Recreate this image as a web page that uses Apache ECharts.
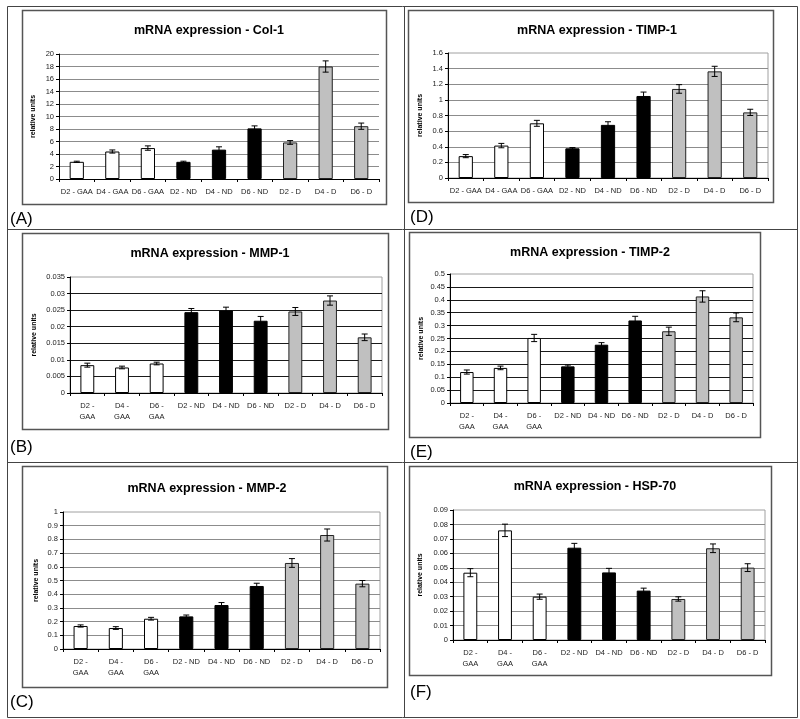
<!DOCTYPE html>
<html>
<head>
<meta charset="utf-8">
<script src="https://cdn.jsdelivr.net/npm/echarts@6/dist/echarts.min.js"></script>
<style>
  html, body { margin: 0; padding: 0; background: #fff; }
  #chart { width: 800px; height: 719px; }
</style>
</head>
<body>
<div id="chart"></div>
<script>
// categories shared by all six panels
var categories = ['D2 - GAA', 'D4 - GAA', 'D6 - GAA', 'D2 - ND', 'D4 - ND', 'D6 - ND', 'D2 - D', 'D4 - D', 'D6 - D'];

// values (mean, error)
var col1 = [2.75, 4.4, 4.95, 2.75, 4.7, 8.1, 5.85, 18.0, 8.45];
var col1Err = [0.1, 0.25, 0.35, 0.1, 0.45, 0.4, 0.3, 0.9, 0.5];

var timp1 = [0.28, 0.415, 0.70, 0.38, 0.68, 1.05, 1.14, 1.365, 0.84];
var timp1Err = [0.02, 0.028, 0.038, 0.01, 0.04, 0.05, 0.055, 0.065, 0.04];

var mmp1 = [0.0084, 0.0077, 0.0089, 0.0244, 0.0249, 0.0218, 0.0246, 0.0279, 0.0168];
var mmp1Err = [0.0006, 0.0004, 0.0004, 0.0011, 0.001, 0.0013, 0.0012, 0.0014, 0.001];

var timp2 = [0.12, 0.136, 0.252, 0.142, 0.226, 0.32, 0.278, 0.413, 0.332];
var timp2Err = [0.008, 0.007, 0.014, 0.005, 0.008, 0.016, 0.016, 0.022, 0.017];

var mmp2 = [0.168, 0.153, 0.221, 0.238, 0.321, 0.46, 0.628, 0.832, 0.477];
var mmp2Err = [0.008, 0.01, 0.01, 0.01, 0.018, 0.02, 0.032, 0.044, 0.023];

var hsp70 = [0.0466, 0.0759, 0.030, 0.0639, 0.0468, 0.0342, 0.0284, 0.0635, 0.0501];
var hsp70Err = [0.0028, 0.0043, 0.0018, 0.003, 0.0028, 0.0017, 0.0015, 0.003, 0.0027];

var FONT = '"Liberation Sans", Arial, sans-serif';

var panels = [
    { title: 'mRNA expression - Col-1', tag: '(A)', data: col1, err: col1Err, max: 20, step: 2, wrap: false,
      grid: [59, 54, 320, 125], box: [22, 10, 364, 194], titlePos: [204, 19], tagPos: [10, 211], nameGap: 22,
      splitColor: '#8c8c8c', border: false },
    { title: 'mRNA expression - TIMP-1', tag: '(D)', data: timp1, err: timp1Err, max: 1.6, step: 0.2, wrap: false,
      grid: [448, 53, 320, 125], box: [408, 10, 365, 192], titlePos: [592, 19], tagPos: [410, 209], nameGap: 24,
      splitColor: '#8c8c8c', border: true },
    { title: 'mRNA expression - MMP-1', tag: '(B)', data: mmp1, err: mmp1Err, max: 0.035, step: 0.005, wrap: true,
      grid: [70, 277, 312, 116], box: [22, 233, 366, 196], titlePos: [205, 242], tagPos: [10, 439], nameGap: 32,
      splitColor: '#1a1a1a', border: true },
    { title: 'mRNA expression - TIMP-2', tag: '(E)', data: timp2, err: timp2Err, max: 0.5, step: 0.05, wrap: true,
      grid: [450, 274, 303, 129], box: [409, 232, 351, 205], titlePos: [585, 241], tagPos: [410, 444], nameGap: 25,
      splitColor: '#1a1a1a', border: true },
    { title: 'mRNA expression - MMP-2', tag: '(C)', data: mmp2, err: mmp2Err, max: 1, step: 0.1, wrap: true,
      grid: [63, 512, 317, 137], box: [22, 466, 365, 221], titlePos: [202, 477], tagPos: [10, 694], nameGap: 23,
      splitColor: '#8c8c8c', border: true },
    { title: 'mRNA expression - HSP-70', tag: '(F)', data: hsp70, err: hsp70Err, max: 0.09, step: 0.01, wrap: true,
      grid: [453, 510, 312, 130], box: [409, 466, 362, 209], titlePos: [590, 475], tagPos: [410, 684], nameGap: 29,
      splitColor: '#8c8c8c', border: true }
];

function barStyle(name) {
    if (name.indexOf('GAA') >= 0) return { color: '#ffffff', borderColor: '#000', borderWidth: 1 };
    if (name.indexOf('ND') >= 0) return { color: '#000000', borderColor: '#000', borderWidth: 1 };
    return { color: '#c0c0c0', borderColor: '#222', borderWidth: 1 };
}

function errorBarRender(params, api) {
    var x = api.value(0), v = api.value(1), e = api.value(2);
    var hi = api.coord([x, v + e]);
    var lo = api.coord([x, v - e]);
    var cap = 3;
    var style = { stroke: '#000', lineWidth: 1 };
    return {
        type: 'group',
        children: [
            { type: 'line', shape: { x1: hi[0], y1: hi[1], x2: lo[0], y2: lo[1] }, style: style },
            { type: 'line', shape: { x1: hi[0] - cap, y1: hi[1], x2: hi[0] + cap, y2: hi[1] }, style: style },
            { type: 'line', shape: { x1: lo[0] - cap, y1: lo[1], x2: lo[0] + cap, y2: lo[1] }, style: style }
        ]
    };
}

var titles = [], grids = [], xAxes = [], yAxes = [], series = [];
var graphics = [
    { type: 'rect', shape: { x: 7.5, y: 6.5, width: 790, height: 711 }, style: { fill: 'none', stroke: '#444', lineWidth: 1 }, z: 0 },
    { type: 'line', shape: { x1: 404.5, y1: 6, x2: 404.5, y2: 718 }, style: { stroke: '#444', lineWidth: 1 } },
    { type: 'line', shape: { x1: 7, y1: 229.5, x2: 798, y2: 229.5 }, style: { stroke: '#444', lineWidth: 1 } },
    { type: 'line', shape: { x1: 7, y1: 462.5, x2: 798, y2: 462.5 }, style: { stroke: '#444', lineWidth: 1 } }
];

panels.forEach(function (p, i) {
    graphics.push({
        type: 'rect', shape: { x: p.box[0] + 0.5, y: p.box[1] + 0.5, width: p.box[2], height: p.box[3] },
        style: { fill: 'none', stroke: '#555', lineWidth: 1.5 }, z: 0
    });
    graphics.push({
        type: 'text', left: p.tagPos[0], top: p.tagPos[1],
        style: { text: p.tag, font: '17px ' + FONT, fill: '#000' }
    });

    titles.push({
        text: p.title, left: p.titlePos[0], top: p.titlePos[1], textAlign: 'center',
        textStyle: { fontFamily: FONT, fontSize: 12.5, fontWeight: 'bold', color: '#000' }
    });

    grids.push({
        left: p.grid[0], top: p.grid[1], width: p.grid[2], height: p.grid[3],
        show: p.border, borderColor: '#a0a0a0', borderWidth: 1, backgroundColor: 'transparent'
    });

    xAxes.push({
        type: 'category', gridIndex: i, data: categories,
        axisLine: { lineStyle: { color: '#000', width: 1 } },
        axisTick: { show: true, interval: 0, length: 3, lineStyle: { color: '#000' } },
        axisLabel: {
            interval: 0, fontFamily: FONT, fontSize: 7.5, color: '#222', margin: 7, lineHeight: 11, hideOverlap: false,
            formatter: function (v) { return p.wrap ? v.replace(' - GAA', ' -\nGAA') : v; }
        }
    });

    yAxes.push({
        type: 'value', gridIndex: i, min: 0, max: p.max, interval: p.step,
        name: 'relative units', nameLocation: 'middle', nameGap: p.nameGap, nameRotate: 90,
        nameTextStyle: { fontFamily: FONT, fontSize: 7, fontWeight: 'bold', color: '#000' },
        axisLine: { show: true, lineStyle: { color: '#000', width: 1 } },
        axisTick: { show: true, length: 3, lineStyle: { color: '#000' } },
        axisLabel: { fontFamily: FONT, fontSize: 7.5, color: '#222', margin: 5 },
        splitLine: { show: true, showMaxLine: !p.border, lineStyle: { color: p.splitColor, width: 1 } }
    });

    series.push({
        type: 'bar', xAxisIndex: i, yAxisIndex: i, barWidth: '40%', animation: false,
        data: p.data.map(function (v, k) {
            return { value: v, itemStyle: barStyle(categories[k]) };
        })
    });

    series.push({
        type: 'custom', xAxisIndex: i, yAxisIndex: i, z: 5, animation: false,
        renderItem: errorBarRender,
        encode: { x: 0, y: 1 },
        data: p.data.map(function (v, k) { return [k, v, p.err[k]]; })
    });
});

var myChart = echarts.init(document.getElementById('chart'), null, { renderer: 'canvas' });
myChart.setOption({
    backgroundColor: '#fff',
    animation: false,
    title: titles,
    grid: grids,
    xAxis: xAxes,
    yAxis: yAxes,
    series: series,
    graphic: graphics
});
</script>
</body>
</html>
